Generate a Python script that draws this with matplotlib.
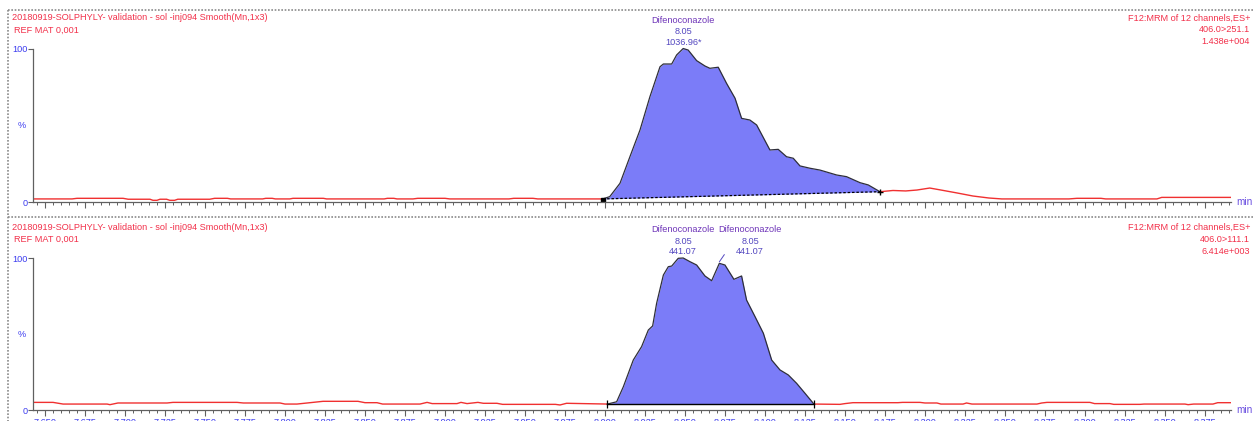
import matplotlib
matplotlib.use("Agg")
import matplotlib.pyplot as plt
from matplotlib.lines import Line2D
from matplotlib.ticker import MultipleLocator, FormatStrFormatter

plt.rcParams["font.family"] = ["Liberation Sans", "DejaVu Sans"]

# ---------------------------------------------------------------- data
SAMPLE = "20180919-SOLPHYLY- validation - sol -inj094 Smooth(Mn,1x3)"
SAMPLE_SUB = "REF MAT 0,001"
FUNCTION = "F12:MRM of 12 channels,ES+"
TRANSITIONS = ["406.0>251.1", "406.0>111.1"]
INTENSITIES = ["1.438e+004", "6.414e+003"]
COMPOUND = "Difenoconazole"
PEAK_RT_LABEL = "8.05"
TOP_AREA_LABEL = "1036.96*"
BOT_AREA_LABEL = "441.07"

X_TICKS = [7.650, 7.675, 7.700, 7.725, 7.750, 7.775, 7.800, 7.825, 7.850,
           7.875, 7.900, 7.925, 7.950, 7.975, 8.000, 8.025, 8.050, 8.075,
           8.100, 8.125, 8.150, 8.175, 8.200, 8.225, 8.250, 8.275, 8.300,
           8.325, 8.350, 8.375]
X_RANGE = (7.6425, 8.3913)

# 406.0>251.1 trace (retention time in min, relative intensity in %)
TOP_RT = [7.6425, 7.6669, 7.6700, 7.6988, 7.7020, 7.7156, 7.7175, 7.7200,
          7.7219, 7.7260, 7.7280, 7.7310, 7.7330, 7.7530, 7.7560, 7.7640,
          7.7660, 7.7860, 7.7880, 7.7920, 7.7940, 7.8030, 7.8050, 7.8240,
          7.8260, 7.8620, 7.8640, 7.8680, 7.8700, 7.8800, 7.8830, 7.9000,
          7.9030, 7.9400, 7.9430, 7.9550, 7.9580,
          7.9986, 8.0030, 8.0094, 8.0156, 8.0219, 8.0281, 8.0344, 8.0365,
          8.0417, 8.0448, 8.0489, 8.0520, 8.0573, 8.0625, 8.0656, 8.0708,
          8.0760, 8.0813, 8.0854, 8.0906, 8.0948, 8.1031, 8.1083, 8.1135,
          8.1177, 8.1219, 8.1281, 8.1344, 8.1448, 8.1510, 8.1594, 8.1646,
          8.1719,
          8.1800, 8.1880, 8.1950, 8.2030, 8.2100, 8.2200, 8.2300, 8.2400,
          8.2480, 8.2900, 8.2950, 8.3100, 8.3130, 8.3450, 8.3480, 8.3700,
          8.3913]
TOP_PCT = [2.0, 2.0, 2.4, 2.4, 1.8, 1.8, 1.1, 1.1,
           1.8, 1.8, 1.1, 1.1, 1.8, 1.8, 2.4, 2.4,
           2.0, 2.0, 2.4, 2.4, 2.0, 2.0, 2.4, 2.4,
           2.0, 2.0, 2.4, 2.4, 2.0, 2.0, 2.4, 2.4,
           2.0, 2.0, 2.4, 2.4, 2.0,
           2.0, 3.5, 12.2, 29.5, 46.9, 68.6, 88.1, 89.9,
           89.9, 95.8, 100.0, 99.0, 92.1, 88.6, 87.1, 87.8,
           77.3, 67.6, 54.5, 53.4, 50.2, 33.9, 34.3, 29.5,
           28.5, 23.5, 22.0, 20.8, 17.6, 16.5, 12.6, 11.1,
           6.7,
           7.5, 7.2, 7.8, 9.1, 7.8, 5.9, 3.9, 2.6,
           2.0, 2.0, 2.4, 2.4, 2.0, 2.0, 3.0, 3.0,
           3.0]
TOP_LIMITS = (7.9986, 8.1719)

# 406.0>111.1 trace
BOT_RT = [7.6425, 7.6550, 7.6613, 7.6888, 7.6906, 7.6956, 7.7263, 7.7300,
          7.7700, 7.7740, 7.7969, 7.8000, 7.8075, 7.8175, 7.8238, 7.8456,
          7.8500, 7.8575, 7.8610, 7.8844, 7.8888, 7.8920, 7.9075, 7.9100,
          7.9138, 7.9206, 7.9240, 7.9325, 7.9360, 7.9690, 7.9719, 7.9760,
          8.0015, 8.0073, 8.0115, 8.0177, 8.0229, 8.0271, 8.0298, 8.0323,
          8.0365, 8.0396, 8.0417, 8.0458, 8.0489, 8.0531, 8.0573, 8.0625,
          8.0667, 8.0715, 8.0750, 8.0806, 8.0854, 8.0885, 8.0938, 8.0990,
          8.1042, 8.1094, 8.1146, 8.1198, 8.1250, 8.1306,
          8.1469, 8.1500, 8.1550, 8.1831, 8.1860, 8.1969, 8.2000, 8.2075,
          8.2100, 8.2238, 8.2260, 8.2294, 8.2700, 8.2730, 8.2763, 8.3031,
          8.3060, 8.3156, 8.3180, 8.3344, 8.3370, 8.3625, 8.3645, 8.3680,
          8.3800, 8.3830, 8.3913]
BOT_PCT = [5.2, 5.2, 4.1, 4.1, 3.7, 4.8, 4.8, 5.2,
           5.2, 4.8, 4.8, 4.1, 4.1, 5.2, 5.9, 5.9,
           5.0, 5.0, 4.1, 4.1, 5.2, 4.4, 4.4, 5.2,
           4.4, 5.2, 4.6, 4.6, 3.9, 3.9, 3.5, 4.6,
           4.1, 5.6, 15.5, 33.0, 41.8, 52.7, 55.4, 70.3,
           88.8, 94.3, 94.7, 99.8, 100.0, 97.6, 95.4, 88.2,
           85.1, 96.5, 95.4, 86.0, 88.2, 72.4, 61.5, 50.6,
           33.0, 26.5, 23.2, 17.7, 11.2, 4.1,
           3.9, 4.4, 5.0, 5.0, 5.2, 5.2, 4.8, 4.8,
           4.1, 4.1, 4.8, 4.1, 4.1, 4.8, 5.2, 5.2,
           4.4, 4.4, 3.9, 3.9, 4.1, 4.1, 3.7, 4.1,
           4.1, 5.0, 5.0]
BOT_LIMITS = (8.0015, 8.1306)
BOT_SECOND_APEX = 8.0715

# ---------------------------------------------------------------- style
RED = "#F2304A"
TRACE = "#F03030"
BLUE = "#3C3CF0"
PEAK_FILL = "#7B7CF8"
PEAK_EDGE = "#2E2E3A"
NAME_C = "#6E34B8"
NUM_C = "#5448C0"
AXIS_C = "#606060"
FS = 6.6

W, H = 1253, 421
fig = plt.figure(figsize=(W / 100, H / 100), dpi=100)


def fx(px):
    return px / W


def fy(py):
    return 1 - py / H


# dotted frame around the two panels
frame = dict(color="#8a8a8a", lw=1.2, ls=(0, (1, 1)))
fig.add_artist(Line2D([fx(8), fx(1253)], [fy(10), fy(10)], **frame))
fig.add_artist(Line2D([fx(8), fx(8)], [fy(10), fy(421)], **frame))
fig.add_artist(Line2D([fx(8), fx(1253)], [fy(217), fy(217)], **frame))

ax_top = fig.add_axes([fx(33), fy(202), fx(1231 - 33), (202 - 48.5) / H])
ax_bot = fig.add_axes([fx(33), fy(410.3), fx(1231 - 33), (410.3 - 258) / H])


def split(rt, pct, lo, hi):
    pre = [(t, p) for t, p in zip(rt, pct) if t <= lo]
    mid = [(t, p) for t, p in zip(rt, pct) if lo <= t <= hi]
    post = [(t, p) for t, p in zip(rt, pct) if t >= hi]
    return pre, mid, post


def style_axis(ax, show_labels):
    ax.set_xlim(*X_RANGE)
    ax.set_ylim(0, 100)
    for s in ("top", "right"):
        ax.spines[s].set_visible(False)
    ax.spines["left"].set_color(AXIS_C)
    ax.spines["bottom"].set_color(AXIS_C)
    ax.spines["left"].set_linewidth(0.9)
    ax.spines["bottom"].set_linewidth(0.9)
    ax.set_xticks(X_TICKS)
    ax.xaxis.set_minor_locator(MultipleLocator(0.005))
    ax.xaxis.set_major_formatter(FormatStrFormatter("%.3f"))
    ax.tick_params(axis="x", which="major", length=4, width=0.8,
                   color=AXIS_C, labelsize=FS, labelcolor=BLUE, pad=1.5,
                   labelbottom=show_labels)
    ax.tick_params(axis="x", which="minor", length=2.2, width=0.7,
                   color=AXIS_C)
    ax.set_yticks([0, 100])
    ax.set_yticklabels(["0", "100"])
    ax.tick_params(axis="y", length=3.5, width=0.8, color=AXIS_C,
                   labelsize=FS, labelcolor=BLUE, pad=0.5)
    ax.text(-0.009, 50, "%", transform=ax.get_yaxis_transform(),
            ha="center", va="center", fontsize=FS, color=BLUE)
    ax.text(1.004, 0, "min", transform=ax.get_yaxis_transform(),
            ha="left", va="center", fontsize=FS + 0.6, color="#6A4FE0")


def draw_trace(ax, rt, pct, lo, hi):
    pre, mid, post = split(rt, pct, lo, hi)
    for seg in (pre, post):
        ax.plot([t for t, _ in seg], [p for _, p in seg], color=TRACE,
                lw=1.0, solid_joinstyle="miter")
    mt = [t for t, _ in mid]
    mp = [p for _, p in mid]
    base = [mp[0] + (mp[-1] - mp[0]) * (t - mt[0]) / (mt[-1] - mt[0])
            for t in mt]
    ax.fill_between(mt, base, mp, color=PEAK_FILL, lw=0, clip_on=False)
    ax.plot(mt, mp, color=PEAK_EDGE, lw=0.9, clip_on=False)
    return mt, mp


# ---- upper panel
style_axis(ax_top, False)
mt, mp = draw_trace(ax_top, TOP_RT, TOP_PCT, *TOP_LIMITS)
ax_top.plot([mt[0], mt[-1]], [mp[0], mp[-1]], color="black", lw=0.9,
            ls=(0, (2, 1.5)))
ax_top.plot([mt[0]], [mp[0] - 0.6], marker="s", ms=2.2, color="black")
ax_top.plot([mt[-1]], [mp[-1]], marker="+", ms=5, mew=1.0, color="black")
i_top = mp.index(max(mp))
for txt, dy, col in ((COMPOUND, 20.5, NAME_C), (PEAK_RT_LABEL, 11.9, NUM_C),
                     (TOP_AREA_LABEL, 4.0, NUM_C)):
    ax_top.annotate(txt, (mt[i_top], mp[i_top]), xytext=(0, dy),
                    textcoords="offset points", ha="center", va="center",
                    fontsize=FS, color=col, annotation_clip=False)

# ---- lower panel
style_axis(ax_bot, True)
mt, mp = draw_trace(ax_bot, BOT_RT, BOT_PCT, *BOT_LIMITS)
ax_bot.plot([mt[0], mt[-1]], [mp[0], mp[-1]], color="black", lw=1.0)
ax_bot.plot([mt[0], mt[-1]], [mp[0], mp[-1]], ls="none", marker="|",
            ms=6, mew=0.9, color="black")
i_bot = mp.index(max(mp))
i_two = mt.index(BOT_SECOND_APEX)
for txt, dy, col in ((COMPOUND, 20.2, NAME_C), (PEAK_RT_LABEL, 12.2, NUM_C),
                     (BOT_AREA_LABEL, 4.7, NUM_C)):
    ax_bot.annotate(txt, (mt[i_bot], mp[i_bot]), xytext=(0, dy),
                    textcoords="offset points", ha="center", va="center",
                    fontsize=FS, color=col, annotation_clip=False)
for txt, dy, col in ((COMPOUND, 24.0, NAME_C), (PEAK_RT_LABEL, 16.0, NUM_C),
                     (BOT_AREA_LABEL, 8.5, NUM_C)):
    ax_bot.annotate(txt, (mt[i_two], mp[i_two]), xytext=(22.1, dy),
                    textcoords="offset points", ha="center", va="center",
                    fontsize=FS, color=col, annotation_clip=False)
ax_bot.annotate("", (mt[i_two], mp[i_two] + 1), xytext=(3.6, 5.2),
                textcoords="offset points", annotation_clip=False,
                arrowprops=dict(arrowstyle="-", color=NUM_C, lw=0.7,
                                shrinkA=0, shrinkB=0))

# ---- header texts
for row, (trans, inten) in enumerate(zip(TRANSITIONS, INTENSITIES)):
    y0 = 18 + row * 209
    fig.text(fx(12), fy(y0), SAMPLE, ha="left", va="center", fontsize=FS,
             color=RED)
    fig.text(fx(14), fy(y0 + 12), SAMPLE_SUB, ha="left", va="center",
             fontsize=FS, color=RED)
    fig.text(fx(1250), fy(y0), FUNCTION, ha="right", va="center",
             fontsize=FS, color=RED)
    fig.text(fx(1250), fy(y0 + 12), trans, ha="right", va="center",
             fontsize=FS, color=RED)
    fig.text(fx(1250), fy(y0 + 24), inten, ha="right", va="center",
             fontsize=FS, color=RED)

fig.savefig("out.png", dpi=100)
